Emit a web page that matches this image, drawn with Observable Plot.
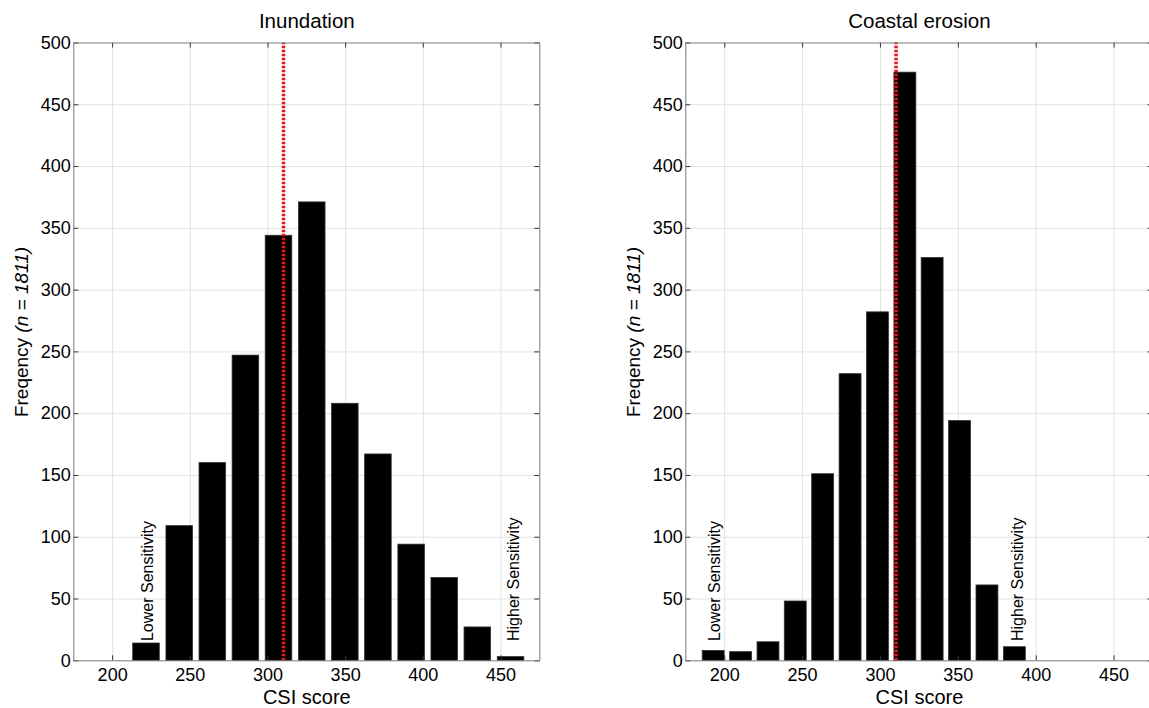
<!DOCTYPE html>
<html><head><meta charset="utf-8">
<script src="https://cdn.jsdelivr.net/npm/d3@7"></script>
<script src="https://cdn.jsdelivr.net/npm/@observablehq/plot@0.6"></script>
<style>
html,body{margin:0;padding:0;background:#fff;overflow:hidden;width:1149px;height:708px;}
#wrap{position:relative;width:1149px;height:708px;overflow:hidden;background:#fff;}
#wrap svg{position:absolute;top:0;}
</style></head><body><div id="wrap"></div>
<script>
// ---- data ----
const xTicks = [200, 250, 300, 350, 400, 450];
const yTicks = [0, 50, 100, 150, 200, 250, 300, 350, 400, 450, 500];
const xDomain = [175, 475];
const yDomain = [0, 500];

const inundationCenters = [221.8, 243.2, 264.5, 285.8, 307.1, 328.5, 349.8, 371.1, 392.5, 413.8, 435.1, 456.5];
const inundationCounts  = [14, 109, 160, 247, 344, 371, 208, 167, 94, 67, 27, 3];
const erosionCenters = [192.9, 210.5, 228.1, 245.6, 263.2, 280.8, 298.4, 316.0, 333.5, 351.1, 368.7, 386.3];
const erosionCounts  = [8, 7, 15, 48, 151, 232, 282, 476, 326, 194, 61, 11];

const titles = ["Inundation", "Coastal erosion"];
const medianScores = [310, 310];
const sensitivityLabels = ["Lower Sensitivity", "Higher Sensitivity"];
const inundationLabelX = [223, 458];
const erosionLabelX = [193.6, 388];
const sensitivityLabelY = 16;
const sampleSize = 1811;

const FONT = "Liberation Sans, Arial, Helvetica, sans-serif";

function panel({title, centers, counts, labelX, median, left, width, marginLeft, marginRight}) {
  const half = (centers[1] - centers[0]) * 0.4;
  const bars = centers.map((c, i) => ({x1: c - half, x2: c + half, count: counts[i]}));
  const labels = sensitivityLabels.map((t, i) => ({text: t, x: labelX[i]}));
  const marginTop = 42.5, marginBottom = 708 - 660.3, height = 708;
  const plotW = width - marginLeft - marginRight;
  const kx = (xDomain[1] - xDomain[0]) / plotW;      // data units per px
  const ky = (yDomain[1] - yDomain[0]) / (height - marginTop - marginBottom);
  const tx = 5 * kx, ty = 5 * ky;
  const chart = Plot.plot({
    width, height, marginLeft, marginRight, marginTop, marginBottom,
    style: {fontFamily: FONT, fontSize: "18px", color: "#000", background: "#fff"},
    x: {domain: xDomain, axis: null},
    y: {domain: yDomain, axis: null},
    marks: [
      Plot.gridX(xTicks, {stroke: "#e2e2e2", strokeOpacity: 1}),
      Plot.gridY(yTicks.slice(1, -1), {stroke: "#e2e2e2", strokeOpacity: 1}),
      Plot.rect(bars, {x1: "x1", x2: "x2", y1: 0, y2: "count", fill: "#000", stroke: "#333", strokeWidth: 0.8}),
      Plot.ruleX([median], {y1: yDomain[0], y2: yDomain[1], stroke: "#e3141c", strokeWidth: 3.5, strokeDasharray: "2.5,1.5"}),
      Plot.text(labels, {x: "x", y: sensitivityLabelY, text: "text", rotate: -90, textAnchor: "start", lineAnchor: "middle", fontSize: 16, fill: "#000"}),
      Plot.ruleX(xTicks, {y1: yDomain[0], y2: yDomain[0] + ty, stroke: "#333"}),
      Plot.ruleX(xTicks, {y1: yDomain[1], y2: yDomain[1] - ty, stroke: "#333"}),
      Plot.ruleY(yTicks, {x1: xDomain[0], x2: xDomain[0] + tx, stroke: "#333"}),
      Plot.ruleY(yTicks, {x1: xDomain[1], x2: xDomain[1] - tx, stroke: "#333"}),
      Plot.frame({stroke: "#7a7a7a"}),
      Plot.axisX(xTicks, {tickSize: 0, tickPadding: 7, fontSize: 18, label: null}),
      Plot.axisY(yTicks, {tickSize: 0, tickPadding: 3, fontSize: 18, label: null}),
      Plot.text([title], {frameAnchor: "top", dy: -15, lineAnchor: "bottom", fontSize: 20.5}),
      Plot.text(["CSI score"], {frameAnchor: "bottom", dy: 43, lineAnchor: "bottom", fontSize: 20})
    ]
  });
  chart.style.left = left + "px";
  const yl = d3.select(chart).append("text")
    .attr("transform", `translate(${marginLeft - 45.3},332) rotate(-90)`)
    .attr("text-anchor", "middle")
    .attr("font-family", FONT)
    .attr("font-size", 19)
    .attr("fill", "#000");
  yl.append("tspan").text("Freqency ");
  yl.append("tspan").attr("font-style", "italic").text("(n = " + sampleSize + ")");
  document.getElementById("wrap").appendChild(chart);
}

panel({title: titles[0], centers: inundationCenters, counts: inundationCounts, labelX: inundationLabelX,
       median: medianScores[0], left: 0, width: 560, marginLeft: 73.3, marginRight: 20.7});
panel({title: titles[1], centers: erosionCenters, counts: erosionCounts, labelX: erosionLabelX,
       median: medianScores[1], left: 580, width: 580, marginLeft: 105.3, marginRight: 7.5});
</script></body></html>
